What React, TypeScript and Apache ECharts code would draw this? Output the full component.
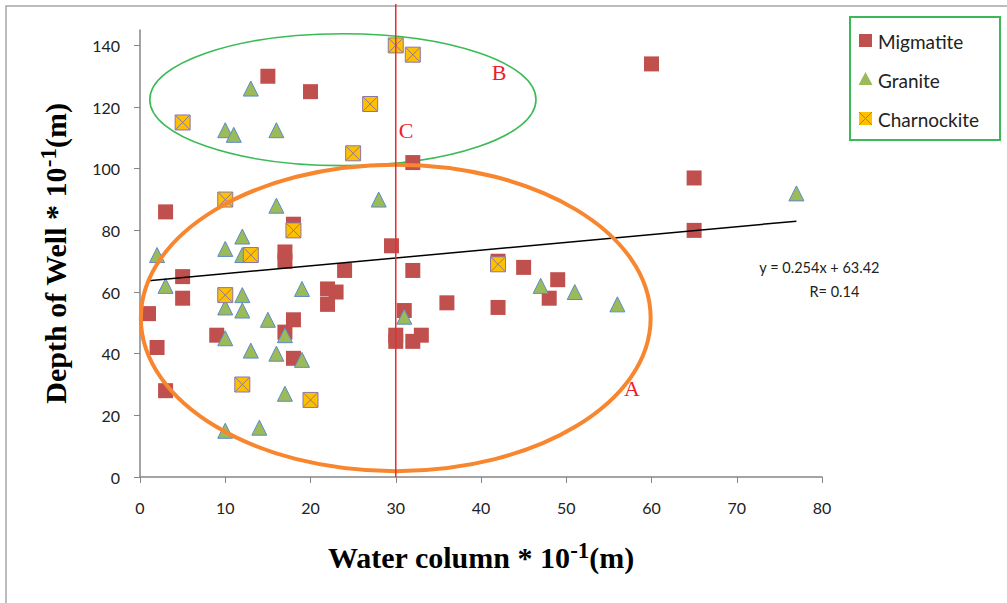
import React, { useEffect, useRef } from 'react';
import * as echarts from 'echarts';

// [water column, depth of well]
const migmatite: number[][] = [
  [15, 130], [20, 125], [60, 134], [32, 102], [65, 97], [3, 86], [18, 82], [65, 80],
  [29.5, 75], [17, 73], [17, 70], [24, 67], [32, 67], [42, 70], [45, 68], [5, 65],
  [49, 64], [22, 61], [23, 60], [5, 58], [48, 58], [22, 56], [36, 56.5], [42, 55],
  [1, 53], [31, 54], [18, 51], [9, 46], [17, 47], [30, 46], [30, 44], [32, 44],
  [33, 46], [2, 42], [18, 38.5], [3, 28],
];
const granite: number[][] = [
  [13, 126], [10, 112.5], [11, 111], [16, 112.5], [28, 90], [16, 88], [12, 78], [10, 74],
  [12, 72], [2, 72], [3, 62], [19, 61], [12, 59], [10, 55], [12, 54], [15, 51],
  [31, 52], [17, 46], [10, 45], [13, 41], [16, 40], [19, 38], [17, 27], [10, 15],
  [14, 16], [47, 62], [51, 60], [56, 56], [77, 92],
];
const charnockite: number[][] = [
  [30, 140], [32, 137], [27, 121], [5, 115], [25, 105], [10, 90], [18, 80], [13, 72],
  [42, 69], [10, 59], [12, 30], [20, 25],
];
const xTicks = [0, 10, 20, 30, 40, 50, 60, 70, 80];
const yTicks = [0, 20, 40, 60, 80, 100, 120, 140];
// linear fit stated on the chart
const slope = 0.254;
const intercept = 63.42;
const fitRange = [1, 77];
const eqText = 'y = 0.254x + 63.42';
const rText = 'R= 0.14';
// annotation ellipses in data units: [cx, cy, rx, ry]
const ellipseB = [23.8, 122.4, 22.65, 21.4];
const ellipseA = [30.0, 51.6, 29.9, 49.7];
const dividerX = 30;

const LABEL_FONT = 'Lato, "Open Sans", sans-serif';
const SERIF = '"Liberation Serif", "DejaVu Serif", serif';
const xPath = 'path://M0,0L10,0L10,10L0,10Z M0.5,0.5L9.5,9.5 M9.5,0.5L0.5,9.5';

export default function App() {
  const ref = useRef<HTMLDivElement>(null);
  useEffect(() => {
    const chart = echarts.init(ref.current!, null, { renderer: 'svg' });
    const titleRich = {
      t: { fontFamily: SERIF, fontWeight: 'bold', fontSize: 30, color: '#000' },
      s: { fontFamily: SERIF, fontWeight: 'bold', fontSize: 23, color: '#000', verticalAlign: 'top', padding: [0, 0, 14, 0] },
    };
    chart.setOption({
      animation: false,
      backgroundColor: '#fff',
      grid: { left: 140, right: 185, top: 30, bottom: 126 },
      xAxis: {
        type: 'value', min: 0, max: 80, interval: 10,
        splitLine: { show: false },
        axisLine: { show: true, lineStyle: { color: '#868686', width: 1.5 } },
        axisTick: { show: true, length: 6, lineStyle: { color: '#868686' }, customValues: xTicks },
        axisLabel: { fontFamily: LABEL_FONT, fontSize: 16, color: '#222', margin: 22, customValues: xTicks },
        name: '{t|Water column * 10}{s|-1}{t|(m)}',
        nameLocation: 'middle', nameGap: 62,
        nameTextStyle: { rich: titleRich },
      },
      yAxis: {
        type: 'value', min: 0, max: 145,
        splitLine: { show: false },
        axisLine: { show: true, lineStyle: { color: '#868686', width: 1.5 } },
        axisTick: { show: true, length: 6, lineStyle: { color: '#868686' }, customValues: yTicks },
        axisLabel: { fontFamily: LABEL_FONT, fontSize: 16, color: '#222', margin: 20, customValues: yTicks },
        name: '{t|Depth of Well * 10}{s|-1}{t|(m)}',
        nameLocation: 'middle', nameGap: 66, nameRotate: 90,
        nameTextStyle: { rich: titleRich },
      },
      legend: { show: false },
      series: [
        {
          name: 'Migmatite', type: 'scatter', data: migmatite, symbol: 'rect', symbolSize: 15,
          itemStyle: { color: '#C0504D', opacity: 1 }, z: 3,
        },
        {
          name: 'Granite', type: 'scatter', data: granite, symbol: 'triangle', symbolSize: [15, 15],
          itemStyle: { color: '#9BBB59', borderColor: '#5B8BC9', borderWidth: 1, opacity: 1 }, z: 4,
        },
        {
          name: 'Charnockite', type: 'scatter', data: charnockite, symbol: xPath, symbolSize: 15,
          itemStyle: { color: '#FFC000', borderColor: '#8A76A6', borderWidth: 1, opacity: 1 }, z: 5,
        },
        {
          name: 'fit', type: 'line', silent: true, symbol: 'none', z: 6,
          data: fitRange.map((x) => [x, slope * x + intercept]),
          lineStyle: { color: '#000', width: 1.5 },
        },
      ],
    });

    const px = (x: number, y: number) => chart.convertToPixel({ gridIndex: 0 }, [x, y]) as number[];
    const ell = (e: number[]) => {
      const c = px(e[0], e[1]);
      const r = px(e[0] + e[2], e[1] + e[3]);
      return { cx: c[0], cy: c[1], rx: r[0] - c[0], ry: c[1] - r[1] };
    };
    const base = px(dividerX, 0);
    const fitEnd = px(fitRange[1], slope * fitRange[1] + intercept);
    const legendItems = [
      { name: 'Migmatite', y: 40 },
      { name: 'Granite', y: 79 },
      { name: 'Charnockite', y: 118 },
    ];
    const redText = { fill: '#EE1D2D', font: `22px ${SERIF}` };
    chart.setOption({
      graphic: [
        { type: 'rect', z: 0, silent: true, shape: { x: 6, y: 6, width: 1010, height: 610 }, style: { fill: 'none', stroke: '#A6A6A6', lineWidth: 1.5 } },
        { type: 'ellipse', z: 1, silent: true, shape: ell(ellipseB), style: { fill: 'none', stroke: '#3BBA55', lineWidth: 1.6 } },
        { type: 'ellipse', z: 20, silent: true, shape: ell(ellipseA), style: { fill: 'none', stroke: '#F7862F', lineWidth: 4 } },
        { type: 'line', z: 20, silent: true, shape: { x1: base[0], y1: 4, x2: base[0], y2: base[1] }, style: { stroke: '#EE2A2A', lineWidth: 1.5 } },
        { type: 'text', z: 21, x: 632, y: 388, style: { text: 'A', ...redText, align: 'center', verticalAlign: 'middle' } },
        { type: 'text', z: 21, x: 499, y: 72, style: { text: 'B', ...redText, align: 'center', verticalAlign: 'middle' } },
        { type: 'text', z: 21, x: 406, y: 130, style: { text: 'C', ...redText, align: 'center', verticalAlign: 'middle' } },
        { type: 'text', z: 21, x: fitEnd[0] + 23, y: fitEnd[1] + 46, style: { text: eqText, fill: '#222', font: `14.5px ${LABEL_FONT}`, align: 'center', verticalAlign: 'middle' } },
        { type: 'text', z: 21, x: fitEnd[0] + 38, y: fitEnd[1] + 70, style: { text: rText, fill: '#222', font: `14.5px ${LABEL_FONT}`, align: 'center', verticalAlign: 'middle' } },
        // legend
        { type: 'rect', z: 21, shape: { x: 850, y: 17, width: 150, height: 123 }, style: { fill: '#fff', stroke: '#3BB85A', lineWidth: 2 } },
        { type: 'rect', z: 22, shape: { x: 859, y: legendItems[0].y - 6, width: 13, height: 13 }, style: { fill: '#C0504D' } },
        { type: 'polygon', z: 22, shape: { points: [[865.5, legendItems[1].y - 7], [872.5, legendItems[1].y + 6], [858.5, legendItems[1].y + 6]] }, style: { fill: '#9BBB59' } },
        { type: 'rect', z: 22, shape: { x: 859, y: legendItems[2].y - 6, width: 13, height: 13 }, style: { fill: '#FFC000' } },
        { type: 'line', z: 23, shape: { x1: 859, y1: legendItems[2].y - 6, x2: 872, y2: legendItems[2].y + 7 }, style: { stroke: '#8A76A6', lineWidth: 1 } },
        { type: 'line', z: 23, shape: { x1: 872, y1: legendItems[2].y - 6, x2: 859, y2: legendItems[2].y + 7 }, style: { stroke: '#8A76A6', lineWidth: 1 } },
        ...legendItems.map((it) => ({
          type: 'text', z: 22, x: 878, y: it.y + 1,
          style: { text: it.name, fill: '#222', font: `19px ${LABEL_FONT}`, verticalAlign: 'middle' },
        })),
      ],
    });
    return () => chart.dispose();
  }, []);
  return <div ref={ref} style={{ position: 'fixed', left: 0, top: 0, width: 1007, height: 603 }} />;
}
